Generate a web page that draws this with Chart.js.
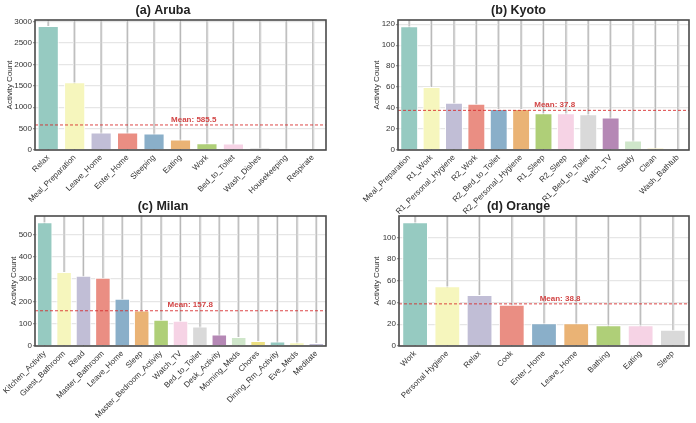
<!DOCTYPE html>
<html>
<head>
<meta charset="utf-8">
<script src="https://cdn.jsdelivr.net/npm/chart.js@4.4.1/dist/chart.umd.min.js"></script>
<style>
  body { margin: 0; background: #fff; width: 696px; height: 423px; position: relative; overflow: hidden; }
  canvas { position: absolute; }
</style>
</head>
<body>
<canvas id="aruba" width="348" height="220" style="left:0;top:0"></canvas>
<canvas id="kyoto" width="348" height="220" style="left:348px;top:0"></canvas>
<canvas id="milan" width="348" height="227" style="left:0;top:196px"></canvas>
<canvas id="orange" width="348" height="227" style="left:348px;top:196px"></canvas>
<script>
const arubaLabels = ['Relax', 'Meal_Preparation', 'Leave_Home', 'Enter_Home', 'Sleeping', 'Eating', 'Work', 'Bed_to_Toilet', 'Wash_Dishes', 'Housekeeping', 'Respirate'];
const arubaCounts = [2897, 1585, 410, 408, 388, 245, 160, 150, 55, 33, 3];
const arubaMean = 585.5;
const arubaTicks = [0, 500, 1000, 1500, 2000, 2500, 3000];

const kyotoLabels = ['Meal_Preparation', 'R1_Work', 'R1_Personal_Hygiene', 'R2_Work', 'R2_Bed_to_Toilet', 'R2_Personal_Hygiene', 'R1_Sleep', 'R2_Sleep', 'R1_Bed_to_Toilet', 'Watch_TV', 'Study', 'Clean', 'Wash_Bathtub'];
const kyotoCounts = [118, 60, 45, 44, 39, 39, 35, 35, 34, 31, 9, 2, 0];
const kyotoMean = 37.8;
const kyotoTicks = [0, 20, 40, 60, 80, 100, 120];

const milanLabels = ['Kitchen_Activity', 'Guest_Bathroom', 'Read', 'Master_Bathroom', 'Leave_Home', 'Sleep', 'Master_Bedroom_Activity', 'Watch_TV', 'Bed_to_Toilet', 'Desk_Activity', 'Morning_Meds', 'Chores', 'Dining_Rm_Activity', 'Eve_Meds', 'Meditate'];
const milanCounts = [554, 331, 314, 306, 211, 159, 117, 113, 87, 52, 40, 22, 20, 17, 13];
const milanMean = 157.8;
const milanTicks = [0, 100, 200, 300, 400, 500];

const orangeLabels = ['Work', 'Personal Hygiene', 'Relax', 'Cook', 'Enter_Home', 'Leave_Home', 'Bathing', 'Eating', 'Sleep'];
const orangeCounts = [114, 55, 47, 38, 21, 21, 19, 19, 15];
const orangeMean = 38.8;
const orangeTicks = [0, 20, 40, 60, 80, 100];

// Set3, desaturated like seaborn does
const palette = ['#96cac1', '#f6f6bd', '#c1bed6', '#ea8e83', '#8aafc9', '#eab375',
                 '#afcf78', '#f6d3e5', '#d9d9d9', '#b588b5', '#cfe6ca', '#ede081'];

const FONT = "'Liberation Sans', Arial, sans-serif";

const panelPlugin = {
    id: 'panelDeco',
    beforeDatasetsDraw(chart) {
        const { ctx, chartArea, scales: { x } } = chart;
        ctx.save();
        ctx.strokeStyle = 'rgba(150,150,150,0.7)';
        ctx.lineWidth = 0.8;
        chart.data.labels.forEach((_, i) => {
            const px = x.getPixelForValue(i);
            ctx.beginPath();
            ctx.moveTo(px, chartArea.top);
            ctx.lineTo(px, chartArea.bottom);
            ctx.stroke();
        });
        ctx.restore();
    },
    afterDatasetsDraw(chart, args, opts) {
        const { ctx, chartArea, scales: { x, y } } = chart;
        const py = y.getPixelForValue(opts.mean);
        ctx.save();
        ctx.strokeStyle = 'rgba(214,39,40,0.85)';
        ctx.lineWidth = 1;
        ctx.setLineDash([3, 2]);
        ctx.beginPath();
        ctx.moveTo(chartArea.left, py);
        ctx.lineTo(chartArea.right, py);
        ctx.stroke();
        ctx.setLineDash([]);
        ctx.fillStyle = '#d24545';
        ctx.font = 'bold 8px ' + FONT;
        ctx.textAlign = 'center';
        ctx.textBaseline = 'bottom';
        ctx.fillText('Mean: ' + opts.mean.toFixed(1), x.getPixelForValue(chart.data.labels.length / 2), py - 1.5);
        // frame round the plot
        ctx.strokeStyle = '#4a4a4a';
        ctx.lineWidth = 1.6;
        ctx.strokeRect(chartArea.left, chartArea.top, chartArea.right - chartArea.left, chartArea.bottom - chartArea.top);
        ctx.restore();
    }
};

function makePanel(id, title, labels, counts, mean, yMax, yTicks, axisWidth, titleOffset, rightPad, xHeight) {
    new Chart(document.getElementById(id), {
        type: 'bar',
        data: {
            labels: labels,
            datasets: [{
                data: counts,
                backgroundColor: labels.map((_, i) => palette[i % palette.length]),
                borderColor: '#ffffff',
                borderWidth: 1,
                barPercentage: 0.8,
                categoryPercentage: 1.0
            }]
        },
        options: {
            responsive: false,
            animation: false,
            layout: { padding: { left: 0, right: rightPad, top: 0, bottom: 0 } },
            plugins: {
                legend: { display: false },
                tooltip: { enabled: false },
                title: {
                    display: true,
                    text: title,
                    color: '#222',
                    font: { family: FONT, size: 12.5, weight: 'bold' },
                    padding: { top: 3, bottom: 2 }
                },
                panelDeco: { mean: mean }
            },
            scales: {
                x: {
                    afterFit: (s) => { s.height = xHeight; },
                    grid: { offset: false, color: '#e2e2e2', lineWidth: 2.5, drawTicks: false },
                    border: { display: false },
                    ticks: {
                        autoSkip: false, minRotation: 45, maxRotation: 45, padding: 3,
                        color: '#333', font: { family: FONT, size: 8 }
                    }
                },
                y: {
                    min: 0,
                    max: yMax,
                    afterFit: (s) => { s.width = axisWidth; },
                    afterBuildTicks: (s) => { s.ticks = yTicks.map(v => ({ value: v })); },
                    grid: { color: '#e6e6e6', lineWidth: 1.3, tickLength: 2, tickColor: '#999' },
                    border: { display: false },
                    ticks: {
                        autoSkip: false, padding: 1, color: '#333', font: { family: FONT, size: 8 },
                        callback: (v) => String(v)
                    },
                    title: {
                        display: true,
                        text: 'Activity Count',
                        color: '#333',
                        font: { family: FONT, size: 8 },
                        padding: { top: titleOffset, bottom: 0 }
                    }
                }
            }
        },
        plugins: [panelPlugin]
    });
}

makePanel('aruba', '(a) Aruba', arubaLabels, arubaCounts, arubaMean, 3040, arubaTicks, 35, 4.7, 22, 70);
makePanel('kyoto', '(b) Kyoto', kyotoLabels, kyotoCounts, kyotoMean, 124, kyotoTicks, 50, 24.2, 7, 70);
makePanel('milan', '(c) Milan', milanLabels, milanCounts, milanMean, 582, milanTicks, 35, 9.2, 22, 77);
makePanel('orange', '(d) Orange', orangeLabels, orangeCounts, orangeMean, 119.7, orangeTicks, 51, 24.2, 7, 77);
</script>
</body>
</html>
